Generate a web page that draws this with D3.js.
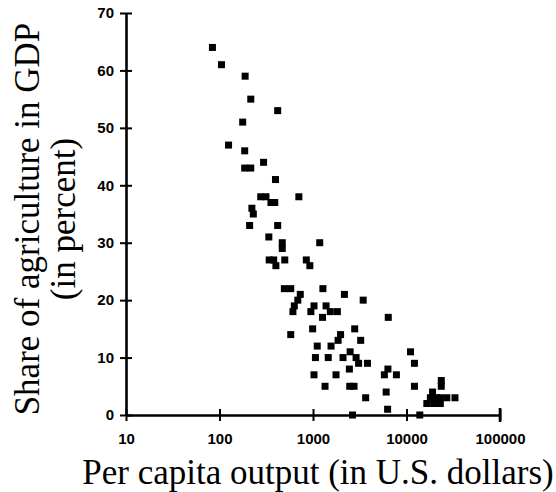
<!DOCTYPE html>
<html>
<head>
<meta charset="utf-8">
<script src="https://cdn.jsdelivr.net/npm/d3@7/dist/d3.min.js"></script>
<style>
  html, body { margin: 0; padding: 0; background: #fff; }
  svg { display: block; }
</style>
</head>
<body>
<svg id="chart" width="556" height="492"></svg>
<script>
// ---- data ----
const xTicks = [10, 100, 1000, 10000, 100000];
const xTickLabels = ["10", "100", "1000", "10000", "100000"];
const yTicks = [0, 10, 20, 30, 40, 50, 60, 70];
const yTickLabels = ["0", "10", "20", "30", "40", "50", "60", "70"];

// per capita output (US$)
const output = [
  84, 105, 188, 216, 419, 177, 125, 186, 296, 186, 216, 397,
  276, 314, 706, 355, 390, 222, 230, 210, 419, 337, 469, 469,
  1180, 340, 380, 499, 401, 848, 925, 494, 578, 1276, 731, 688,
  631, 610, 2168, 3442, 1025, 1380, 949, 1531, 1823, 1265, 6383, 578,
  991, 2793, 1972, 1855, 3236, 1110, 1560, 2495, 11040, 1062, 1455, 2094,
  2890, 3074, 3823, 12160, 2449, 6326, 1025, 1763, 5800, 7800, 1345, 2471,
  2746, 12160, 23550, 23550, 3657, 6061, 6280, 2649, 13870,
  16500, 18000, 19000, 19500, 21000, 23000, 23000, 27000, 33000
];
// share of agriculture in GDP (%)
const agriShare = [
  64, 61, 59, 55, 53, 51, 47, 46, 44, 43, 43, 41,
  38, 38, 38, 37, 37, 36, 35, 33, 33, 31, 30, 29,
  30, 27, 27, 27, 26, 27, 26, 22, 22, 22, 21, 20,
  19, 18, 21, 20, 19, 19, 18, 18, 18, 17, 17, 14,
  15, 15, 14, 13, 13, 12, 12, 11, 11, 10, 10, 10,
  10, 9, 9, 9, 8, 8, 7, 7, 7, 7, 5, 5,
  5, 5, 6, 5, 3, 4, 1, 0, 0,
  2, 3, 4, 2, 3, 3, 2, 3, 3
];

const xTitle = "Per capita output (in U.S. dollars)";
const yTitle1 = "Share of agriculture in GDP";
const yTitle2 = "(in percent)";

// ---- layout ----
const svg = d3.select("#chart");
const x = d3.scaleLog().domain([10, 100000]).range([126, 500]);
const y = d3.scaleLinear().domain([0, 70]).range([415, 13]);

const tickFont = "'Liberation Sans', Arial, Helvetica, sans-serif";
const titleFont = "'Liberation Serif', 'Times New Roman', Times, serif";

// x axis
const xAxis = d3.axisBottom(x)
  .tickValues(xTicks)
  .tickFormat((d, i) => xTickLabels[i])
  .tickSizeInner(5)
  .tickSizeOuter(0)
  .tickPadding(13);
const gx = svg.append("g").attr("transform", `translate(0,${y(0)})`).call(xAxis);
gx.select(".domain").attr("stroke", "#000").attr("stroke-width", 2.6);
gx.selectAll(".tick line").attr("y1", -6).attr("y2", 6).attr("stroke", "#000").attr("stroke-width", 2);
gx.selectAll(".tick text")
  .attr("font-family", tickFont).attr("font-size", 15).attr("font-weight", "bold")
  .attr("fill", "#000");

// y axis
const yAxis = d3.axisLeft(y)
  .tickValues(yTicks)
  .tickFormat((d, i) => yTickLabels[i])
  .tickSizeInner(5)
  .tickSizeOuter(0)
  .tickPadding(7);
const gy = svg.append("g").attr("transform", `translate(${x(10)},0)`).call(yAxis);
gy.select(".domain").attr("stroke", "#000").attr("stroke-width", 2.6);
gy.selectAll(".tick line").attr("x1", -6).attr("x2", 6).attr("stroke", "#000").attr("stroke-width", 2);
gy.selectAll(".tick text")
  .attr("font-family", tickFont).attr("font-size", 15).attr("font-weight", "bold")
  .attr("fill", "#000");

// right end cap of x axis
svg.append("line")
  .attr("x1", x(100000)).attr("x2", x(100000))
  .attr("y1", y(0) - 7).attr("y2", y(0) + 7)
  .attr("stroke", "#000").attr("stroke-width", 2.6);

// points
const pts = output.map((v, i) => ({ v, s: agriShare[i] }));
const size = 7;
svg.append("g").selectAll("rect").data(pts).join("rect")
  .attr("x", d => x(d.v) - size / 2)
  .attr("y", d => y(d.s) - size / 2)
  .attr("width", size).attr("height", size)
  .attr("fill", "#000");

// titles
svg.append("text")
  .attr("x", 318).attr("y", 484)
  .attr("text-anchor", "middle")
  .attr("font-family", titleFont).attr("font-size", 35)
  .attr("fill", "#000")
  .text(xTitle);

svg.append("text")
  .attr("transform", "translate(39,219) rotate(-90)")
  .attr("text-anchor", "middle")
  .attr("font-family", titleFont).attr("font-size", 35)
  .attr("fill", "#000")
  .text(yTitle1);

svg.append("text")
  .attr("transform", "translate(75,219) rotate(-90)")
  .attr("text-anchor", "middle")
  .attr("font-family", titleFont).attr("font-size", 35)
  .attr("fill", "#000")
  .text(yTitle2);
</script>
</body>
</html>
